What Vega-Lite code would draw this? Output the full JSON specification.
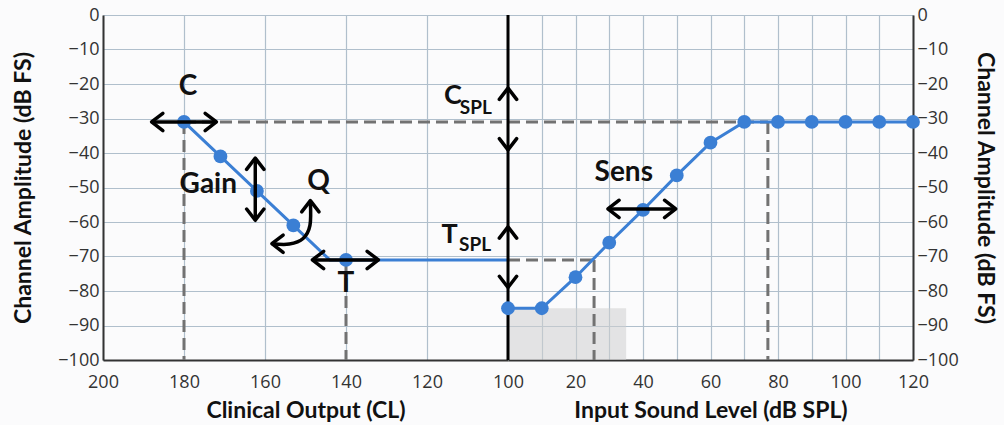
{
  "$schema": "https://vega.github.io/schema/vega-lite/v6.json",
  "background": "#fbfbfc",
  "padding": {"left": 12, "top": 6, "right": 8, "bottom": 3},
  "spacing": 0,
  "bounds": "flush",
  "config": {
    "view": {"stroke": null},
    "axis": {
      "labelFont": "Open Sans", "labelFontSize": 18, "labelColor": "#333",
      "titleFont": "Lato", "titleFontSize": 23, "titleFontWeight": "bold", "titleColor": "#111",
      "gridColor": "#b0bfcc", "gridWidth": 1.2, "domainColor": "#333", "domainWidth": 2,
      "ticks": false, "labelPadding": 4, "labelFlush": false, "labelOverlap": false
    },
    "axisX": {"labelPadding": 13, "titlePadding": 8},
    "text": {"font": "Lato", "fontWeight": "bold", "color": "#111"}
  },
  "datasets": {
    "L_dash": [
      {"x": 180, "y": -31, "x2": 100, "y2": -31},
      {"x": 180, "y": -31, "x2": 180, "y2": -100},
      {"x": 140, "y": -71, "x2": 140, "y2": -100}
    ],
    "L_line": [
      {"x": 180, "y": -31}, {"x": 171, "y": -41}, {"x": 162, "y": -51},
      {"x": 153, "y": -61}, {"x": 144, "y": -71}, {"x": 100, "y": -71}
    ],
    "L_pts": [
      {"x": 180, "y": -31}, {"x": 171, "y": -41}, {"x": 162, "y": -51},
      {"x": 153, "y": -61}, {"x": 140, "y": -71}
    ],
    "L_arrow": [
      {"x": 188, "y": -31, "x2": 172, "y2": -31},
      {"x": 162.4, "y": -41.5, "x2": 162.4, "y2": -59.5},
      {"x": 148.3, "y": -71, "x2": 132, "y2": -71}
    ],
    "L_arc": [
      {"k": 1, "x": 148.8, "y": -54},
      {"k": 2, "x": 148.9, "y": -61},
      {"k": 3, "x": 150.6, "y": -64.8},
      {"k": 4, "x": 154, "y": -66.4},
      {"k": 5, "x": 158.3, "y": -66.3}
    ],
    "L_heads": [
      {"x": 188, "y": -31, "dir": "left"}, {"x": 172, "y": -31, "dir": "right"},
      {"x": 162.4, "y": -41.5, "dir": "up"}, {"x": 162.4, "y": -59.5, "dir": "down"},
      {"x": 148.3, "y": -71, "dir": "left"}, {"x": 132, "y": -71, "dir": "right"},
      {"x": 148.8, "y": -53.8, "dir": "up"}, {"x": 158.3, "y": -66.3, "dir": "left"}
    ],
    "L_text": [
      {"x": 179, "y": -21, "label": "C"},
      {"x": 174, "y": -49.3, "label": "Gain"},
      {"x": 146.8, "y": -48.4, "label": "Q"},
      {"x": 140, "y": -78, "label": "T"}
    ],
    "L_text_r": [
      {"x": 111.4, "y": -23.5, "label": "C"},
      {"x": 112.4, "y": -63.8, "label": "T"}
    ],
    "L_text_sub": [
      {"x": 111.9, "y": -27, "label": "SPL"},
      {"x": 112.1, "y": -66.8, "label": "SPL"}
    ],
    "R_rect": [{"x": 0, "x2": 35, "y": -100, "y2": -85}],
    "R_dash": [
      {"x": 0, "y": -31, "x2": 77, "y2": -31},
      {"x": 77, "y": -31, "x2": 77, "y2": -100},
      {"x": 0, "y": -71, "x2": 25.5, "y2": -71},
      {"x": 25.5, "y": -71, "x2": 25.5, "y2": -100}
    ],
    "R_center": [{"x": 0, "y": 0, "x2": 0, "y2": -100}],
    "R_line": [
      {"x": 0, "y": -85}, {"x": 10, "y": -85}, {"x": 20, "y": -76}, {"x": 30, "y": -66},
      {"x": 40, "y": -56.5}, {"x": 50, "y": -46.5}, {"x": 60, "y": -37}, {"x": 70, "y": -31},
      {"x": 80, "y": -31}, {"x": 90, "y": -31}, {"x": 100, "y": -31}, {"x": 110, "y": -31},
      {"x": 120, "y": -31}
    ],
    "R_arrow": [{"x": 29.6, "y": -56.2, "x2": 49.7, "y2": -56.2}],
    "R_heads": [
      {"x": 29.6, "y": -56.2, "dir": "left"}, {"x": 49.7, "y": -56.2, "dir": "right"},
      {"x": 0, "y": -21.2, "dir": "up"}, {"x": 0, "y": -39.1, "dir": "down"},
      {"x": 0, "y": -61.4, "dir": "up"}, {"x": 0, "y": -79, "dir": "down"}
    ],
    "R_text": [{"x": 34.3, "y": -45.8, "label": "Sens"}]
  },
  "hconcat": [
    {
      "width": 405,
      "height": 345,
      "encoding": {
        "x": {
          "field": "x", "type": "quantitative",
          "scale": {"domain": [100, 200], "reverse": true, "nice": false, "zero": false},
          "axis": {"title": "Clinical Output (CL)", "values": [100, 120, 140, 160, 180, 200], "grid": true}
        },
        "y": {
          "field": "y", "type": "quantitative",
          "scale": {"domain": [-100, 0], "nice": false, "zero": false},
          "axis": {"title": "Channel Amplitude (dB FS)", "values": [-100, -90, -80, -70, -60, -50, -40, -30, -20, -10, 0], "grid": true, "titlePadding": 22}
        }
      },
      "layer": [
        {
          "data": {"name": "L_dash"},
          "mark": {"type": "rule", "color": "#727272", "strokeWidth": 3, "strokeDash": [12, 6]},
          "encoding": {"x2": {"field": "x2"}, "y2": {"field": "y2"}}
        },
        {
          "data": {"name": "L_line"},
          "mark": {"type": "line", "color": "#3b7fd4", "strokeWidth": 3},
          "encoding": {}
        },
        {
          "data": {"name": "L_pts"},
          "mark": {"type": "circle", "color": "#3b7fd4", "size": 190, "opacity": 1},
          "encoding": {}
        },
        {
          "data": {"name": "L_arrow"},
          "mark": {"type": "rule", "color": "#000", "strokeWidth": 3.5},
          "encoding": {"x2": {"field": "x2"}, "y2": {"field": "y2"}}
        },
        {
          "data": {"name": "L_arc"},
          "mark": {"type": "line", "color": "#000", "strokeWidth": 3.5, "interpolate": "cardinal"},
          "encoding": {"order": {"field": "k", "type": "quantitative"}}
        },
        {
          "data": {"name": "L_heads"},
          "mark": {"type": "point", "filled": false, "stroke": "#000", "strokeWidth": 3.5, "size": 300, "opacity": 1, "strokeCap": "round", "strokeJoin": "round"},
          "encoding": {
            "shape": {
              "field": "dir", "type": "nominal", "legend": null,
              "scale": {"domain": ["left", "right", "up", "down"], "range": ["M1.3,-1L0,0L1.3,1", "M-1.3,-1L0,0L-1.3,1", "M-1,1.3L0,0L1,1.3", "M-1,-1.3L0,0L1,-1.3"]}
            }
          }
        },
        {
          "data": {"name": "L_text"},
          "mark": {"type": "text", "fontSize": 28, "align": "center", "baseline": "middle"},
          "encoding": {"text": {"field": "label"}}
        },
        {
          "data": {"name": "L_text_r"},
          "mark": {"type": "text", "fontSize": 27, "align": "right", "baseline": "middle"},
          "encoding": {"text": {"field": "label"}}
        },
        {
          "data": {"name": "L_text_sub"},
          "mark": {"type": "text", "fontSize": 19, "align": "left", "baseline": "middle"},
          "encoding": {"text": {"field": "label"}}
        }
      ]
    },
    {
      "width": 405,
      "height": 345,
      "encoding": {
        "x": {
          "field": "x", "type": "quantitative",
          "scale": {"domain": [0, 120], "nice": false, "zero": false},
          "axis": {"title": "Input Sound Level (dB SPL)", "values": [10, 20, 30, 40, 50, 60, 70, 80, 90, 100, 110, 120], "labelExpr": "datum.value % 20 == 0 ? datum.label : ''", "grid": true}
        },
        "y": {
          "field": "y", "type": "quantitative",
          "scale": {"domain": [-100, 0], "nice": false, "zero": false},
          "axis": {"title": "Channel Amplitude (dB FS)", "orient": "right", "values": [-100, -90, -80, -70, -60, -50, -40, -30, -20, -10, 0], "grid": true, "titlePadding": 14}
        }
      },
      "layer": [
        {
          "data": {"name": "R_rect"},
          "mark": {"type": "rect", "color": "#cfcfcf", "opacity": 0.55},
          "encoding": {"x2": {"field": "x2"}, "y2": {"field": "y2"}}
        },
        {
          "data": {"name": "R_dash"},
          "mark": {"type": "rule", "color": "#727272", "strokeWidth": 3, "strokeDash": [12, 6]},
          "encoding": {"x2": {"field": "x2"}, "y2": {"field": "y2"}}
        },
        {
          "data": {"name": "R_center"},
          "mark": {"type": "rule", "color": "#000", "strokeWidth": 3},
          "encoding": {"x2": {"field": "x2"}, "y2": {"field": "y2"}}
        },
        {
          "data": {"name": "R_line"},
          "mark": {"type": "line", "color": "#3b7fd4", "strokeWidth": 3},
          "encoding": {}
        },
        {
          "data": {"name": "R_line"},
          "mark": {"type": "circle", "color": "#3b7fd4", "size": 190, "opacity": 1},
          "encoding": {}
        },
        {
          "data": {"name": "R_arrow"},
          "mark": {"type": "rule", "color": "#000", "strokeWidth": 3.5},
          "encoding": {"x2": {"field": "x2"}, "y2": {"field": "y2"}}
        },
        {
          "data": {"name": "R_heads"},
          "mark": {"type": "point", "filled": false, "stroke": "#000", "strokeWidth": 3.5, "size": 300, "opacity": 1, "strokeCap": "round", "strokeJoin": "round"},
          "encoding": {
            "shape": {
              "field": "dir", "type": "nominal", "legend": null,
              "scale": {"domain": ["left", "right", "up", "down"], "range": ["M1.3,-1L0,0L1.3,1", "M-1.3,-1L0,0L-1.3,1", "M-1,1.3L0,0L1,1.3", "M-1,-1.3L0,0L1,-1.3"]}
            }
          }
        },
        {
          "data": {"name": "R_text"},
          "mark": {"type": "text", "fontSize": 28, "align": "center", "baseline": "middle"},
          "encoding": {"text": {"field": "label"}}
        }
      ]
    }
  ]
}
